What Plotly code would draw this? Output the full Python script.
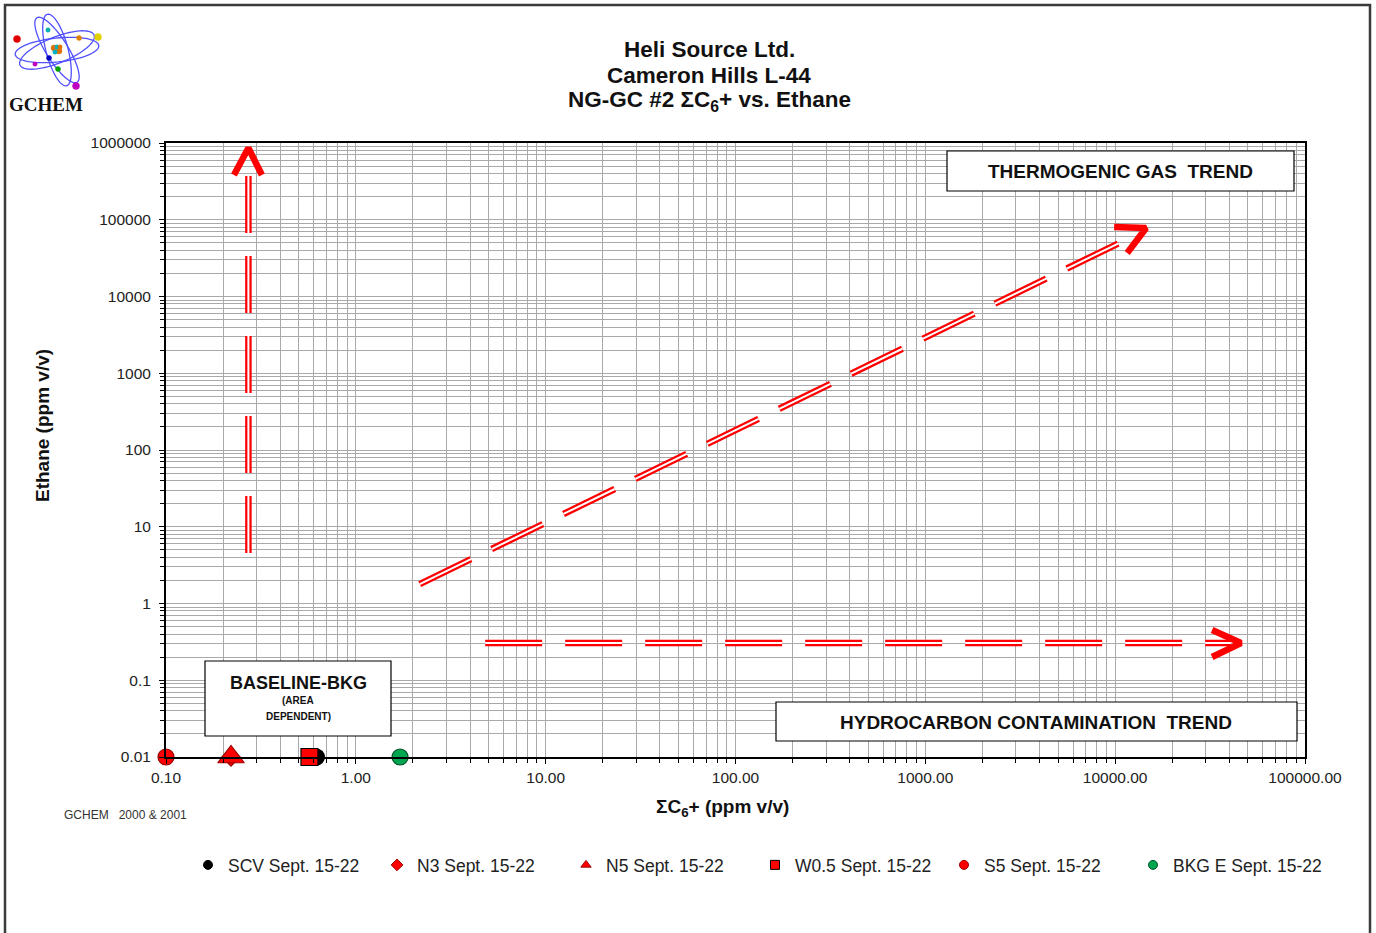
import math
import plotly.graph_objects as go

# ---- sample data (ΣC6+ vs ethane, ppm v/v) ----
samples = ["SCV Sept. 15-22", "N3 Sept. 15-22", "N5 Sept. 15-22",
           "W0.5 Sept. 15-22", "S5 Sept. 15-22", "BKG E Sept. 15-22"]
c6_plus = [0.62, 0.22, 0.22, 0.57, 0.10, 1.71]
ethane = [0.01, 0.01, 0.01, 0.01, 0.01, 0.01]

symbols = ["circle", "diamond", "triangle-up", "square", "circle", "circle"]
fills = ["#000000", "#ff0000", "#ff0000", "#ff0000", "#ff0000", "#00a550"]
outlines = ["#000000", "#990000", "#990000", "#000000", "#990000", "#00502a"]
sizes = [16, 14, 23, 17, 16, 16]

# ---- interpretive trend guides (data coordinates) ----
bkg_trend_x = [0.2717, 0.2717]
bkg_trend_y = [4.55, 383000]
bkg_head_x = [0.228, 0.2717, 0.32]
bkg_head_y = [383000, 861000, 383000]

thermo_trend_x = [2.17, 10770]
thermo_trend_y = [1.79, 51300]
thermo_head_x = [9880, 14560, 11570]
thermo_head_y = [80500, 78000, 36900]

contam_trend_x = [4.8, 40700]
contam_trend_y = [0.305, 0.305]
contam_head_x = [32400, 46000, 32400]
contam_head_y = [0.452, 0.305, 0.201]

x_tickvals = [0.1, 1, 10, 100, 1000, 10000, 100000]
x_ticktext = ["0.10", "1.00", "10.00", "100.00", "1000.00", "10000.00", "100000.00"]
y_tickvals = [0.01, 0.1, 1, 10, 100, 1000, 10000, 100000, 1000000]
y_ticktext = ["0.01", "0.1", "1", "10", "100", "1000", "10000", "100000", "1000000"]

W, H = 1376, 933
ML, MR, MT, MB = 166, 71, 143, 176
PW, PH = W - ML - MR, H - MT - MB
FONT = "Liberation Sans, Arial, sans-serif"
RED = "#ff0000"


def px(x):
    return (x - ML) / PW


def py(y):
    return (H - MB - y) / PH


fig = go.Figure()


def double_dashed(xs, ys):
    # red outer stroke with a white core gives the double-line look
    for color, width in ((RED, 6.5), ("#ffffff", 2.0)):
        fig.add_trace(go.Scatter(
            x=xs, y=ys, mode="lines", showlegend=False, hoverinfo="skip",
            line=dict(color=color, width=width, dash="57px,23px")))


def head(xs, ys):
    fig.add_trace(go.Scatter(
        x=xs, y=ys, mode="lines", showlegend=False, hoverinfo="skip",
        line=dict(color=RED, width=6.5)))


double_dashed(bkg_trend_x, bkg_trend_y)
head(bkg_head_x, bkg_head_y)
double_dashed(thermo_trend_x, thermo_trend_y)
head(thermo_head_x, thermo_head_y)
double_dashed(contam_trend_x, contam_trend_y)
head(contam_head_x, contam_head_y)

# sample points
for name, xv, yv, sym, fc, lc, sz in zip(samples, c6_plus, ethane, symbols, fills, outlines, sizes):
    fig.add_trace(go.Scatter(
        x=[xv], y=[yv], mode="markers", name=name, showlegend=False,
        cliponaxis=False,
        marker=dict(symbol=sym, color=fc, size=sz, line=dict(color=lc, width=1.2))))

# legend entries with small symbols
for name, sym, fc, lc in zip(samples, symbols, fills, outlines):
    fig.add_trace(go.Scatter(
        x=[None], y=[None], mode="markers", name=name,
        marker=dict(symbol=sym, color=fc, size=9, line=dict(color=lc, width=1))))

grid = "#a9a9a9"
tick_font = dict(family=FONT, size=15.5, color="#222")
fig.update_xaxes(
    type="log", range=[-1, 5], tickvals=x_tickvals, ticktext=x_ticktext,
    showgrid=True, gridcolor=grid, gridwidth=1,
    ticks="outside", ticklen=5, tickcolor="#000", tickwidth=1,
    minor=dict(dtick="D1", showgrid=True, gridcolor=grid, gridwidth=1,
               ticks="outside", ticklen=4, tickcolor="#000"),
    showline=True, linecolor="#000", linewidth=2, mirror=True,
    tickfont=tick_font, zeroline=False)
fig.update_yaxes(
    type="log", range=[-2, 6], tickvals=y_tickvals, ticktext=y_ticktext,
    showgrid=True, gridcolor=grid, gridwidth=1,
    ticks="outside", ticklen=5, tickcolor="#000", tickwidth=1,
    minor=dict(dtick="D1", showgrid=True, gridcolor=grid, gridwidth=1,
               ticks="outside", ticklen=4, tickcolor="#000"),
    showline=True, linecolor="#000", linewidth=2, mirror=True,
    ticklabelstandoff=5,
    tickfont=tick_font, zeroline=False)

shapes = []
annotations = []

# outer frame
shapes.append(dict(type="rect", xref="paper", yref="paper", layer="above",
                   x0=px(5), x1=px(1370), y0=py(945), y1=py(5),
                   line=dict(color="#3a3a3a", width=2.5), fillcolor="rgba(0,0,0,0)"))


def box(x0, y0, x1, y1):
    shapes.append(dict(type="rect", xref="paper", yref="paper", layer="above",
                       x0=px(x0), x1=px(x1), y0=py(y1), y1=py(y0),
                       line=dict(color="#000", width=1.2), fillcolor="#ffffff"))


def label(x, y, text, size, bold=True, anchor="center", color="#111", angle=0, family=FONT):
    if bold:
        text = "<b>" + text + "</b>"
    annotations.append(dict(xref="paper", yref="paper", x=px(x), y=py(y), text=text,
                            showarrow=False, xanchor=anchor, yanchor="middle",
                            textangle=angle,
                            font=dict(family=family, size=size, color=color)))


box(947, 151, 1294, 191)
label(1120, 171, "THERMOGENIC GAS  TREND", 19)
box(776, 702, 1297, 741)
label(1036, 722, "HYDROCARBON CONTAMINATION  TREND", 19)
box(205, 661, 391, 736)
label(298, 683, "BASELINE-BKG", 18)
label(298, 700, "(AREA", 10)
label(298, 716, "DEPENDENT)", 10)

# titles
label(709, 50, "Heli Source Ltd.", 22.5)
label(709, 76, "Cameron Hills L-44", 22.5)
label(709, 101, "NG-GC #2 ΣC<sub>6</sub>+ vs. Ethane", 22.5)
label(722, 808, "ΣC<sub>6</sub>+ (ppm v/v)", 19)
label(42, 426, "Ethane (ppm v/v)", 19, angle=-90)
label(62, 815, "GCHEM   2000 & 2001", 12, bold=False, anchor="left", color="#333")
label(46, 105, "GCHEM", 19, family="Liberation Serif, Times New Roman, serif")

# atom logo
cx, cy = 57, 50
orbits = [(42, 12, -6), (40, 13, -22), (38, 11, 58), (37, 11, 75)]
for a, b, ang in orbits:
    t = math.radians(ang)
    pts = []
    for i in range(73):
        u = 2 * math.pi * i / 72
        ex, ey = a * math.cos(u), b * math.sin(u)
        xx = cx + ex * math.cos(t) - ey * math.sin(t)
        yy = cy + ex * math.sin(t) + ey * math.cos(t)
        pts.append(f"{px(xx):.5f},{py(yy):.5f}")
    shapes.append(dict(type="path", xref="paper", yref="paper", layer="above",
                       path="M" + " L".join(pts) + " Z",
                       line=dict(color="#5050ff", width=1.3)))

dots = [(17, 39, 3.5, "#e00000"), (98, 37, 3.5, "#e0d000"), (79, 38, 2.5, "#e08000"),
        (48, 30, 2.2, "#00b0b0"), (49, 58, 2.5, "#0000c0"), (35, 64, 2.2, "#c000c0"),
        (58, 69, 2.5, "#00a000"), (76, 86, 3.5, "#c000c0"),
        (54, 48, 3, "#e07000"), (59, 51, 3, "#e07000"), (57, 47, 2.2, "#00b0c0"),
        (55, 52, 2.2, "#00b0c0"), (60, 47, 2.2, "#e07000")]
for dx, dy, r, c in dots:
    shapes.append(dict(type="circle", xref="paper", yref="paper", layer="above",
                       x0=px(dx - r), x1=px(dx + r), y0=py(dy + r), y1=py(dy - r),
                       fillcolor=c, line=dict(color=c, width=0.5)))

fig.update_layout(
    width=W, height=H, autosize=False,
    margin=dict(l=ML, r=MR, t=MT, b=MB),
    paper_bgcolor="#ffffff", plot_bgcolor="#ffffff",
    shapes=shapes, annotations=annotations,
    hovermode=False,
    legend=dict(orientation="h", x=px(1322), y=py(865), xanchor="right", yanchor="middle",
                entrywidth=144, entrywidthmode="pixels", itemwidth=30,
                font=dict(family=FONT, size=17.5, color="#222"),
                bgcolor="rgba(0,0,0,0)"),
)

fig.write_html("out.html")
